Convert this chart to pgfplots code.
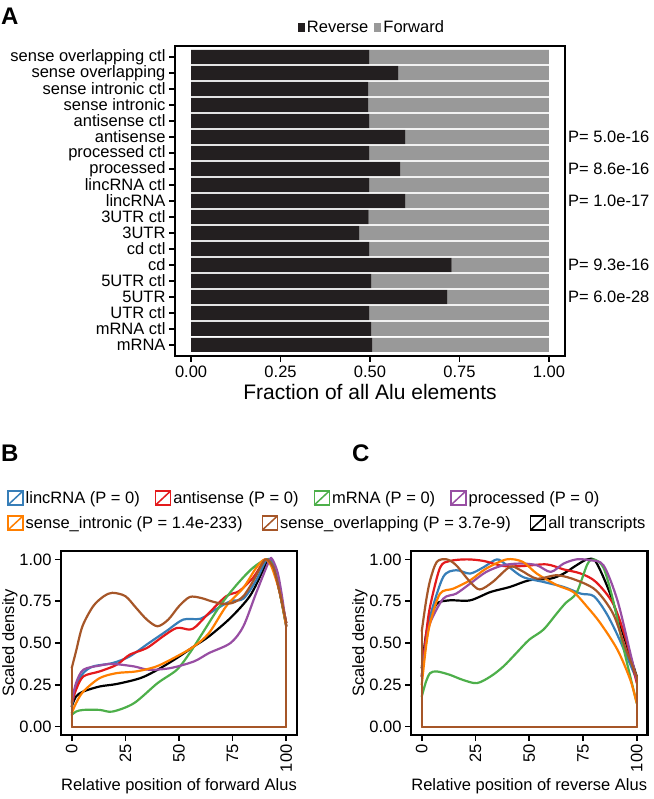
\documentclass[border=0pt]{standalone}
\usepackage{fontspec}
\setmainfont{Liberation Sans}
\usepackage{pgfplots}
\usepackage{pgfplotstable}
\pgfplotsset{compat=1.18}

\definecolor{cDark}{HTML}{231F20}
\definecolor{cGray}{HTML}{999999}
\definecolor{cBlue}{HTML}{377EB8}
\definecolor{cRed}{HTML}{E41A1C}
\definecolor{cGreen}{HTML}{4DAF4A}
\definecolor{cPurple}{HTML}{984EA3}
\definecolor{cOrange}{HTML}{FF7F00}
\definecolor{cBrown}{HTML}{A65628}

\newcommand\fs{\fontsize{16.5}{17}\selectfont}
\newcommand\fsbig{\fontsize{21}{24}\selectfont}
\newcommand\fslet{\fontsize{24}{26}\selectfont\bfseries}

% idx 0 = bottom (mRNA), 18 = top
\pgfplotstableread{
idx rev   fwd
0   0.506 0.494
1   0.503 0.497
2   0.498 0.502
3   0.716 0.284
4   0.504 0.496
5   0.728 0.272
6   0.498 0.502
7   0.470 0.530
8   0.496 0.504
9   0.599 0.401
10  0.498 0.502
11  0.584 0.416
12  0.498 0.502
13  0.599 0.401
14  0.498 0.502
15  0.495 0.505
16  0.495 0.505
17  0.579 0.421
18  0.498 0.502
}\dataA

\pgfplotsset{
  frame/.style={
    scale only axis,
    axis line style={line width=2.2pt, black},
    tick style={line width=1.6pt, black},
    major tick length=6pt,
    tick align=outside,
    tick pos=left,
    ticklabel style={font=\fs},
    label style={font=\fs},
    clip=false,
  },
  dens/.style={line width=2.2pt, line join=round, line cap=round, smooth, tension=0.5, no marks},
  leg/.style={line width=2.2pt, line join=round, sharp plot, no marks},
  keybox/.style={
    legend image code/.code={
      \draw[##1, fill=white, line width=1.5pt] (0pt,-7pt) rectangle (15pt,7pt);
      \draw[##1, line width=1.5pt] (0pt,-7pt) -- (15pt,7pt);
    },
  },
}

\begin{document}
\begin{tikzpicture}
\useasboundingbox (0,0) rectangle (653pt,799pt);

\node[anchor=base west, font=\fslet, inner sep=0pt] at (1pt,774pt) {A};
\node[anchor=base west, font=\fslet, inner sep=0pt] at (1pt,337pt) {B};
\node[anchor=base west, font=\fslet, inner sep=0pt] at (352pt,337pt) {C};

% ---------- panel A ----------
\begin{axis}[frame,
  at={(175pt,443pt)}, anchor=south west,
  width=390pt, height=310pt,
  xbar stacked, bar width=0.88,
  xmin=-0.045, xmax=1.045,
  ymin=-0.69, ymax=18.69,
  xtick={0,0.25,0.5,0.75,1},
  xticklabels={0.00,0.25,0.50,0.75,1.00},
  ytick={0,...,18},
  yticklabels={mRNA,mRNA ctl,UTR ctl,5UTR,5UTR ctl,cd,cd ctl,3UTR,3UTR ctl,lincRNA,lincRNA ctl,processed,processed ctl,antisense,antisense ctl,sense intronic,sense intronic ctl,sense overlapping,sense overlapping ctl},
  yticklabel style={inner ysep=0pt},
  xlabel={Fraction of all Alu elements},
  xlabel style={font=\fsbig},
  legend columns=2,
  legend style={at={(0.505,1.061)}, anchor=center, draw=none, fill=none,
    font=\fs, inner sep=0pt,
    /tikz/every even column/.append style={column sep=4pt}},
  legend image code/.code={\fill[#1] (0pt,-4.5pt) rectangle (7pt,4.5pt);},
]
\addplot[fill=cDark, draw=none] table[x=rev, y=idx] {\dataA};
\addlegendentry{Reverse}
\addplot[fill=cGray, draw=none] table[x=fwd, y=idx] {\dataA};
\addlegendentry{Forward}
\node[anchor=west, font=\fs, inner sep=0pt] at (axis cs:1.045,13) {\hspace{3pt}P= 5.0e-16};
\node[anchor=west, font=\fs, inner sep=0pt] at (axis cs:1.045,11) {\hspace{3pt}P= 8.6e-16};
\node[anchor=west, font=\fs, inner sep=0pt] at (axis cs:1.045,9) {\hspace{3pt}P= 1.0e-17};
\node[anchor=west, font=\fs, inner sep=0pt] at (axis cs:1.045,5) {\hspace{3pt}P= 9.3e-16};
\node[anchor=west, font=\fs, inner sep=0pt] at (axis cs:1.045,3) {\hspace{3pt}P= 6.0e-28};
\end{axis}

% ---------- legends for B and C ----------
\begin{axis}[hide axis, scale only axis, width=10pt, height=10pt,
  at={(7pt,301pt)}, anchor=west, xmin=0, xmax=1, ymin=0, ymax=1,
  keybox, legend columns=4, legend cell align=left,
  legend style={at={(0,0.5)}, anchor=west, draw=none, fill=none, font=\fs, inner sep=0pt,
    /tikz/every even column/.append style={column sep=13pt}},
]
\addlegendimage{cBlue}\addlegendentry{lincRNA (P = 0)}
\addlegendimage{cRed}\addlegendentry{antisense (P = 0)}
\addlegendimage{cGreen}\addlegendentry{mRNA (P = 0)}
\addlegendimage{cPurple}\addlegendentry{processed (P = 0)}
\end{axis}
\begin{axis}[hide axis, scale only axis, width=10pt, height=10pt,
  at={(7pt,276pt)}, anchor=west, xmin=0, xmax=1, ymin=0, ymax=1,
  keybox, legend columns=3, legend cell align=left,
  legend style={at={(0,0.5)}, anchor=west, draw=none, fill=none, font=\fs, inner sep=0pt,
    /tikz/every even column/.append style={column sep=17pt}},
]
\addlegendimage{cOrange}\addlegendentry{sense\_intronic (P = 1.4e-233)}
\addlegendimage{cBrown}\addlegendentry{sense\_overlapping (P = 3.7e-9)}
\addlegendimage{black}\addlegendentry{all transcripts}
\end{axis}

% ---------- panel B ----------
\begin{axis}[frame,
  at={(61pt,64pt)}, anchor=south west,
  width=236pt, height=184pt,
  xmin=-5, xmax=105, ymin=-0.05, ymax=1.05,
  xtick={0,25,50,75,100},
  xticklabels={0,25,50,75,100},
  xticklabel style={rotate=90, anchor=east},
  ytick={0,0.25,0.5,0.75,1},
  yticklabels={0.00,0.25,0.50,0.75,1.00},
  xlabel={Relative position of forward Alus},
  ylabel={Scaled density},
  ylabel style={yshift=-5pt},
]
% all transcripts
\addplot[black, dens] coordinates {(0,0.12) (2,0.18) (5.4,0.21) (13,0.24) (21,0.255) (32,0.29) (40,0.34) (49,0.41) (57,0.48) (64,0.54) (74,0.65) (83,0.78) (89,0.93) (91.5,1.0) (94,0.96) (97,0.8) (100,0.6)};
\addplot[black, leg] coordinates {(0,0.12) (0,0) (100,0) (100,0.6)};
% lincRNA
\addplot[cBlue, dens] coordinates {(0,0.12) (2,0.24) (5.4,0.32) (10,0.36) (19,0.38) (27,0.42) (36,0.5) (44,0.57) (52,0.64) (60,0.645) (67,0.7) (74,0.75) (80,0.765) (86,0.875) (91,1.0) (94,0.96) (97,0.8) (100,0.62)};
\addplot[cBlue, leg] coordinates {(0,0.12) (0,0) (100,0) (100,0.62)};
% antisense
\addplot[cRed, dens] coordinates {(0,0.14) (2,0.22) (5.4,0.3) (13,0.33) (21,0.37) (27,0.43) (35,0.47) (42.6,0.54) (49,0.59) (55,0.58) (58,0.6) (64,0.68) (72,0.78) (78,0.81) (84.5,0.89) (89,0.98) (90.5,1.0) (94,0.95) (97,0.8) (100,0.62)};
\addplot[cRed, leg] coordinates {(0,0.14) (0,0) (100,0) (100,0.62)};
% mRNA
\addplot[cGreen, dens] coordinates {(0,0.07) (2,0.09) (5.4,0.1) (13,0.1) (19,0.09) (29,0.14) (40,0.26) (49,0.34) (55,0.44) (61,0.56) (69,0.72) (77,0.85) (84.5,0.95) (91,1.0) (94,0.95) (97,0.8) (100,0.6)};
\addplot[cGreen, leg] coordinates {(0,0.07) (0,0) (100,0) (100,0.6)};
% processed
\addplot[cPurple, dens] coordinates {(0,0.15) (2,0.26) (5.4,0.34) (13,0.365) (19,0.375) (29,0.36) (36,0.34) (46,0.35) (57,0.39) (64,0.44) (74,0.5) (80,0.6) (86,0.8) (92,0.99) (93.5,1.0) (96,0.92) (98,0.78) (100,0.6)};
\addplot[cPurple, leg] coordinates {(0,0.15) (0,0) (100,0) (100,0.6)};
% sense_intronic
\addplot[cOrange, dens] coordinates {(0,0.08) (2,0.14) (5.4,0.21) (13,0.29) (21,0.32) (30,0.33) (39.5,0.36) (49,0.42) (57,0.48) (64,0.56) (72,0.72) (80,0.83) (86,0.95) (90,1.0) (93,0.96) (97,0.8) (100,0.6)};
\addplot[cOrange, leg] coordinates {(0,0.08) (0,0) (100,0) (100,0.6)};
% sense_overlapping
\addplot[cBrown, dens] coordinates {(0,0.35) (2,0.45) (5,0.6) (10,0.72) (15,0.78) (19,0.8) (25,0.78) (30,0.71) (35,0.64) (40,0.6) (45,0.64) (50,0.72) (55,0.775) (60,0.77) (65,0.75) (70,0.735) (75,0.74) (80,0.78) (85,0.88) (89,0.98) (91,1.0) (94,0.95) (97,0.8) (100,0.62)};
\addplot[cBrown, leg] coordinates {(0,0.35) (0,0) (100,0) (100,0.62)};
\end{axis}

% ---------- panel C ----------
\begin{axis}[frame,
  at={(411pt,64pt)}, anchor=south west,
  width=236.5pt, height=184pt,
  xmin=-5, xmax=105, ymin=-0.05, ymax=1.05,
  xtick={0,25,50,75,100},
  xticklabels={0,25,50,75,100},
  xticklabel style={rotate=90, anchor=east},
  ytick={0,0.25,0.5,0.75,1},
  yticklabels={0.00,0.25,0.50,0.75,1.00},
  xlabel={Relative position of reverse Alus},
  ylabel={Scaled density},
  ylabel style={yshift=-5pt},
]
% all transcripts
\addplot[black, dens] coordinates {(0,0.35) (2,0.55) (3.9,0.64) (7,0.735) (13,0.755) (22.5,0.755) (32,0.805) (41,0.835) (50,0.875) (60,0.885) (66,0.915) (72,0.965) (77,1.0) (81,0.985) (87.6,0.795) (94,0.54) (100,0.3)};
\addplot[black, leg] coordinates {(0,0.35) (0,0) (100,0) (100,0.3)};
% lincRNA
\addplot[cBlue, dens] coordinates {(0,0.3) (2,0.52) (3.9,0.66) (10,0.895) (16,0.935) (22.5,0.915) (29,0.955) (35,1.0) (39.5,0.965) (47,0.895) (56.6,0.865) (66,0.835) (74,0.795) (80,0.78) (86,0.675) (92,0.52) (100,0.28)};
\addplot[cBlue, leg] coordinates {(0,0.3) (0,0) (100,0) (100,0.28)};
% antisense
\addplot[cRed, dens] coordinates {(0,0.3) (2,0.55) (3.9,0.72) (8.5,0.95) (13,0.99) (21,1.0) (29,0.99) (38,0.96) (47,0.96) (58,0.97) (66,0.94) (74,0.915) (81,0.865) (89,0.735) (95,0.52) (100,0.26)};
\addplot[cRed, leg] coordinates {(0,0.3) (0,0) (100,0) (100,0.26)};
% mRNA
\addplot[cGreen, dens] coordinates {(0,0.18) (2,0.27) (3.9,0.32) (7,0.33) (13,0.31) (19,0.28) (25.6,0.26) (32,0.3) (38,0.36) (44,0.44) (50,0.52) (56.6,0.58) (63,0.68) (67,0.74) (72,0.8) (77,0.97) (80,1.0) (84.5,0.95) (89,0.755) (94,0.46) (100,0.14)};
\addplot[cGreen, leg] coordinates {(0,0.18) (0,0) (100,0) (100,0.14)};
% processed
\addplot[cPurple, dens] coordinates {(0,0.3) (2,0.5) (3.9,0.62) (10,0.765) (16,0.795) (22.5,0.855) (30,0.925) (38,0.965) (46,0.975) (53.5,0.965) (60,0.925) (66,0.975) (72,1.0) (78,0.995) (84.5,0.965) (91,0.755) (97,0.44) (100,0.28)};
\addplot[cPurple, leg] coordinates {(0,0.3) (0,0) (100,0) (100,0.28)};
% sense_intronic
\addplot[cOrange, dens] coordinates {(0,0.25) (2,0.48) (3.9,0.62) (8.5,0.795) (14.7,0.825) (22.5,0.875) (30,0.945) (39.5,1.0) (47,0.985) (53.5,0.915) (63,0.845) (70.5,0.805) (77,0.715) (83,0.62) (91,0.46) (97,0.28) (100,0.14)};
\addplot[cOrange, leg] coordinates {(0,0.25) (0,0) (100,0) (100,0.14)};
% sense_overlapping
\addplot[cBrown, dens] coordinates {(0,0.57) (2,0.75) (3.9,0.875) (7,0.985) (11.6,1.0) (16,0.965) (22.5,0.865) (27,0.82) (33,0.865) (41,0.955) (46,0.935) (53.5,0.885) (63,0.905) (72,0.875) (81,0.815) (89,0.675) (95,0.46) (100,0.3)};
\addplot[cBrown, leg] coordinates {(0,0.57) (0,0) (100,0) (100,0.3)};
\end{axis}
\end{tikzpicture}
\end{document}
